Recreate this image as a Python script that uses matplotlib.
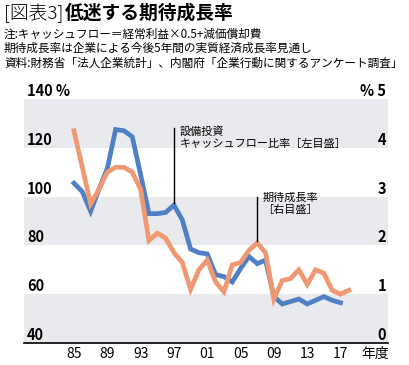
import matplotlib
matplotlib.use('Agg')
import matplotlib.pyplot as plt

plt.rcParams['font.family'] = ['Noto Sans CJK JP', 'DejaVu Sans']

# 設備投資 / キャッシュフロー比率 (左目盛, %)
cf_years = list(range(1985, 2018))
cf_ratio = [105.5, 102, 94, 103, 111.5, 127.5, 127, 124.5, 109, 93,
            93, 93.5, 96.5, 90.5, 78.5, 77, 76.5, 68, 67.2, 65,
            70.5, 75.5, 72.5, 74, 59, 56, 57, 58, 56, 57.5,
            59, 57.5, 56.5]

# 期待成長率 (右目盛, %)
gr_years = list(range(1985, 2019))
growth = [4.35, 3.6, 2.85, 3.15, 3.5, 3.6, 3.6, 3.5, 3.15, 2.1,
          2.25, 2.15, 1.85, 1.65, 1.1, 1.5, 1.7, 1.25, 1.05, 1.6,
          1.65, 1.9, 2.05, 1.85, 0.9, 1.28, 1.32, 1.5, 1.2, 1.5,
          1.43, 1.08, 1.0, 1.08]

tick_years = [1985, 1989, 1993, 1997, 2001, 2005, 2009, 2013, 2017]
tick_labels = ['85', '89', '93', '97', '01', '05', '09', '13', '17']
left_ticks = [40, 60, 80, 100, 120, 140]
left_labels = ['40', '60', '80', '100', '120', '140 %']
right_ticks = [0, 1, 2, 3, 4, 5]
right_labels = ['0', '1', '2', '3', '4', '% 5']

blue = '#4f7fc4'
orange = '#f09872'
band = '#e8eaed'

W, H = 409, 365
fig = plt.figure(figsize=(W / 100, H / 100), dpi=100)
ax = fig.add_axes([24 / W, 1 - 343 / H, 364 / W, 244 / H])
ax2 = ax.twinx()

ax.set_xlim(1979.0, 2022.7)
ax.set_ylim(40, 140)
ax2.set_ylim(0, 5)

# alternating background bands
for lo in (40, 80, 120):
    ax.axhspan(lo, lo + 20, color=band, lw=0, zorder=0)

ax.plot(cf_years, cf_ratio, color=blue, lw=3.4, solid_joinstyle='miter', zorder=3)
ax2.plot(gr_years, growth, color=orange, lw=3.4, solid_joinstyle='miter', zorder=3)

for a in (ax, ax2):
    for s in a.spines.values():
        s.set_visible(False)
    a.set_yticks([])
ax.spines['bottom'].set_visible(True)
ax.spines['bottom'].set_linewidth(1.2)

ax.set_xticks(tick_years)
ax.set_xticklabels(tick_labels, fontsize=10)
ax.tick_params(axis='x', length=0, pad=3)
ax.text(2021.2, -0.015, '年度', transform=ax.get_xaxis_transform(),
        ha='center', va='top', fontsize=10)

# y labels sit just above each band edge
for v, lab in zip(left_ticks, left_labels):
    ax.text(0.008, v, lab, transform=ax.get_yaxis_transform(), ha='left',
            va='bottom', fontsize=10.5, fontweight='bold')
for v, lab in zip(right_ticks, right_labels):
    ax2.text(0.995, v, lab, transform=ax2.get_yaxis_transform(), ha='right',
             va='bottom', fontsize=10.5, fontweight='bold')

# annotations
ax.plot([1997, 1997], [97.5, 128], color='black', lw=1, zorder=4)
ax.text(1997.7, 129, '設備投資\nキャッシュフロー比率［左目盛］', ha='left', va='top',
        fontsize=8, linespacing=1.25)
ax2.plot([2007, 2007], [2.1, 3.0], color='black', lw=1, zorder=4)
ax2.text(2007.6, 3.08, '期待成長率\n［右目盛］', ha='left', va='top',
         fontsize=8, linespacing=1.25)

# title and notes
t1 = fig.text(4 / W, 1 - 13 / H, '[図表3]', ha='left', va='center', fontsize=13.5,
              fontweight='light')
fig.canvas.draw()
x_end = t1.get_window_extent().x1
fig.text((x_end + 1) / W, 1 - 13 / H, '低迷する期待成長率', ha='left', va='center',
         fontsize=13.5, fontweight='bold')
notes = ['注:キャッシュフロー＝経常利益×0.5+減価償却費',
         '期待成長率は企業による今後5年間の実質経済成長率見通し',
         '資料:財務省「法人企業統計」、内閣府「企業行動に関するアンケート調査」']
for i, t in enumerate(notes):
    fig.text(4 / W, 1 - (34 + 14.5 * i) / H, t, ha='left', va='center', fontsize=8.4)

fig.savefig('out.png', dpi=100)
